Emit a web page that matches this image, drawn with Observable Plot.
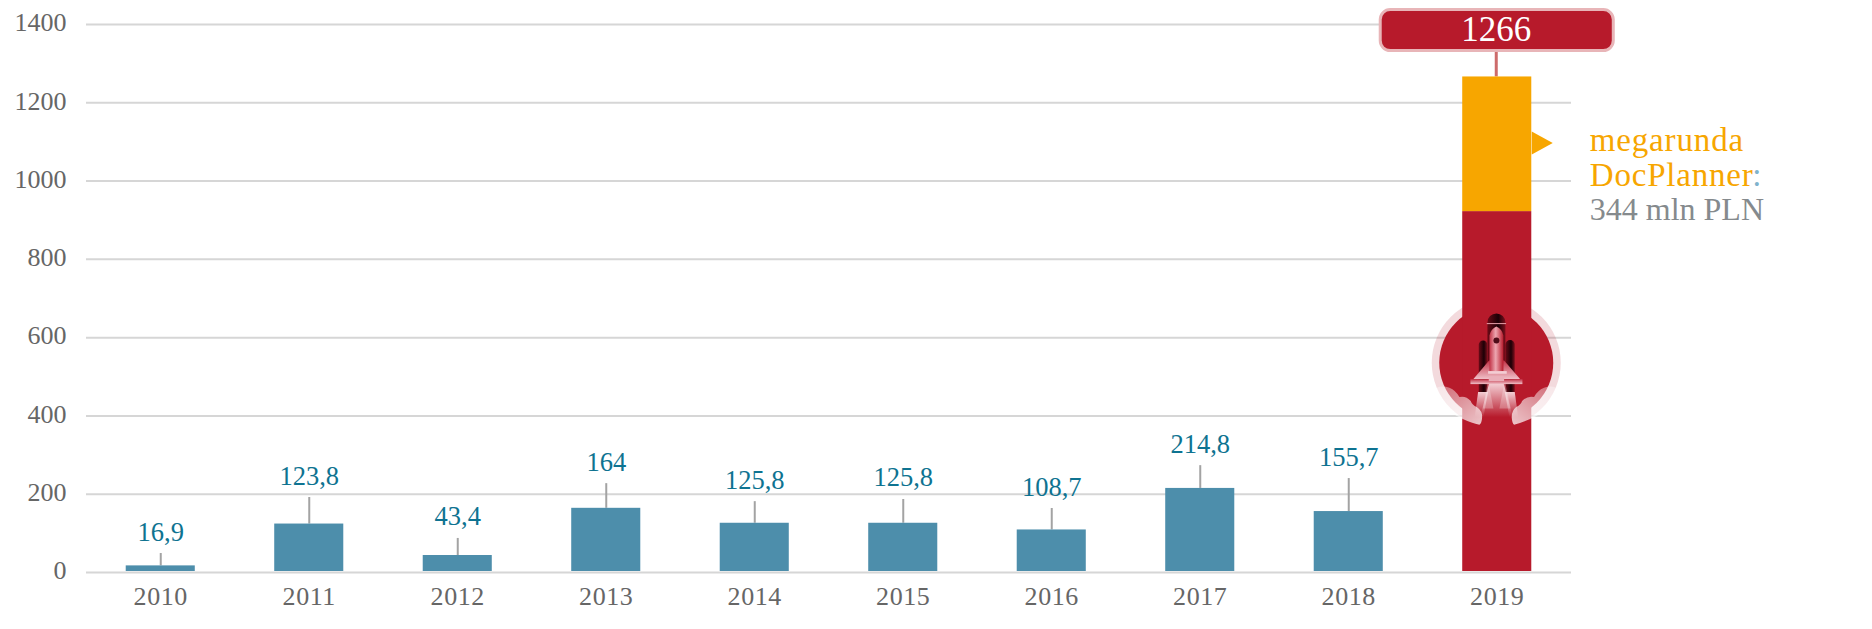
<!DOCTYPE html>
<html><head><meta charset="utf-8">
<script src="https://cdn.jsdelivr.net/npm/d3@7"></script>
<script src="https://cdn.jsdelivr.net/npm/@observablehq/plot@0.6"></script>
<style>html,body{margin:0;padding:0;background:#fff}svg{display:block}</style>
</head><body><div id="c"></div>
<script>
const years=[2010,2011,2012,2013,2014,2015,2016,2017,2018];
const values=[16.9,123.8,43.4,164,125.8,125.8,108.7,214.8,155.7];
const valueLabels=["16,9","123,8","43,4","164","125,8","125,8","108,7","214,8","155,7"];
const leaderTops=[48.5,191.6,87,227,181,186.5,163.5,273,240];
const year2019=2019, base2019=922, megaround=344, total2019=1266;
const yTicks=[0,200,400,600,800,1000,1200,1400];
const noteLines=["megarunda","DocPlanner"];
const noteValues=[1078,988];
const noteLast="344 mln PLN", noteLastValue=901;

const rocket=`<svg xmlns="http://www.w3.org/2000/svg" viewBox="-10.5 0 600 510" width="600" height="510">
<defs>
<linearGradient id="d" x1="0" x2="1" y1="0" y2="0"><stop offset="0" stop-color="#6a0a16"/><stop offset=".6" stop-color="#1c0006"/><stop offset="1" stop-color="#7a0f1c"/></linearGradient>
<linearGradient id="b" x1="0" x2="1" y1="0" y2="0"><stop offset="0" stop-color="#c23246"/><stop offset=".45" stop-color="#eda6b0"/><stop offset="1" stop-color="#b71a2b"/></linearGradient>
<linearGradient id="w" x1="0" x2="0" y1="0" y2="1"><stop offset="0" stop-color="#c23246"/><stop offset="1" stop-color="#f0c0c8"/></linearGradient>
<linearGradient id="f" x1="0" x2="0" y1="0" y2="1"><stop offset="0" stop-color="#f3cdd3"/><stop offset="1" stop-color="#f3cdd3" stop-opacity="0"/></linearGradient>
<linearGradient id="c1" x1="0" x2="1" y1="0" y2="1"><stop offset="0" stop-color="#fff" stop-opacity=".35"/><stop offset="1" stop-color="#fff" stop-opacity=".75"/></linearGradient>
<linearGradient id="c2" x1="1" x2="0" y1="0" y2="1"><stop offset="0" stop-color="#fff" stop-opacity=".35"/><stop offset="1" stop-color="#fff" stop-opacity=".75"/></linearGradient>
</defs>
<path d="M260 270V126a27 27 0 0 1 54 0V270Z" fill="url(#d)"/>
<rect x="258" y="128" width="58" height="3" fill="#e8a0aa"/>
<path d="M234 335V193a13 13 0 0 1 26 0V335Z" fill="url(#d)"/>
<path d="M314 335V193a14 14 0 0 1 28 0V335Z" fill="url(#d)"/>
<path d="M222 410L232 335H262L248 410Z" fill="url(#f)"/>
<path d="M352 410L342 335H312L326 410Z" fill="url(#f)"/>
<path d="M265 310H309L336 410H238Z" fill="url(#f)"/>
<path d="M262 300L246 384H278Z" fill="#fff" opacity=".25"/>
<path d="M312 300L296 384H330Z" fill="#fff" opacity=".25"/>
<path d="M265 240L218 296H358L310 240Z" fill="url(#w)"/>
<rect x="209" y="296" width="156" height="15" fill="url(#w)"/>
<path d="M266 272V165Q270 145 287 138Q304 145 308 165V272Z" fill="url(#b)"/>
<circle cx="287" cy="180" r="9" fill="#4e0c18"/>
<rect x="262" y="272" width="56" height="8" fill="#f3cdd3"/>
<rect x="264" y="288" width="46" height="14" fill="#eab0ba"/>
<path d="M236 433C205 425 170 410 142 390C118 372 108 350 108 322Q125 315 146 322Q165 330 176 350Q195 345 210 362Q214 374 228 380Q246 392 244 412Q243 428 236 433Z" fill="url(#c1)"/>
<path d="M340 433C370 425 405 410 434 390C458 372 466 350 466 322Q450 315 430 322Q410 330 400 350Q380 345 364 362Q360 374 346 380Q332 392 333 412Q334 428 340 433Z" fill="url(#c2)"/>
</svg>`;
const rocketSrc="data:image/svg+xml;charset=utf-8,"+encodeURIComponent(rocket);

const font='"Liberation Serif", serif';
const rightTriangle={draw(ctx){ctx.moveTo(0,-11.5);ctx.lineTo(21,0);ctx.lineTo(0,11.5);ctx.closePath();}};
const rows=years.map((y,i)=>({y,v:values[i],label:valueLabels[i],top:leaderTops[i]}));
const allYears=[...years,year2019];

const chart=Plot.plot({
  width:1872,height:629,marginLeft:86,marginRight:301,marginTop:24,marginBottom:57,
  style:{fontFamily:font,background:"#fff",overflow:"visible"},
  x:{domain:allYears,paddingInner:0.535,paddingOuter:0.2675,round:false,label:null},
  y:{domain:[0,1400],label:null},
  marks:[
    Plot.gridY(yTicks,{stroke:"#d6d6d6",strokeWidth:2,strokeOpacity:1}),
    Plot.axisY(yTicks,{tickSize:0,tickPadding:20,fontSize:26,fill:"#666",label:null,dy:-1.5,tickFormat:d=>String(d)}),
    Plot.axisX(allYears,{tickSize:0,tickPadding:14,fontSize:26,fill:"#666",label:null,tickFormat:d=>String(d)}),
    Plot.dot([year2019],{x:d=>d,y:()=>536,r:64.5,dx:-1,fill:"#b71a2b",fillOpacity:0.16}),
    Plot.dot([year2019],{x:d=>d,y:()=>536,r:57,dx:-1,fill:"#b71a2b"}),
    Plot.ruleX(rows,{x:"y",y1:"v",y2:"top",stroke:"#a3a3a3",strokeWidth:2}),
    Plot.barY(rows,{x:"y",y:"v",fill:"#4d8eab",insetBottom:1}),
    Plot.text(rows,{x:"y",y:"top",text:"label",dy:-13,lineAnchor:"bottom",fontSize:26.5,fill:"#0e7391"}),
    Plot.ruleX([year2019],{x:d=>d,dx:-1,y1:total2019,y2:1332,stroke:"#cd6b6b",strokeWidth:3}),
    Plot.barY([year2019],{x:d=>d,y1:1332,y2:1437,fill:"#b71a2b",stroke:"#e8b5b8",strokeWidth:3,rx:10,insetLeft:-82,insetRight:-82}),
    Plot.text([total2019],{x:()=>year2019,y:()=>1387,dx:-1,text:d=>String(d),fill:"#fff",fontSize:35}),
    Plot.barY([year2019],{x:d=>d,y1:0,y2:base2019,fill:"#b71a2b",insetBottom:1}),
    Plot.barY([year2019],{x:d=>d,y1:base2019,y2:base2019+megaround,fill:"#f7a600"}),
    Plot.dot([year2019],{x:d=>d,y:()=>1097,symbol:rightTriangle,r:5,dx:34.5,fill:"#f7a600"}),
    Plot.image([year2019],{x:d=>d,y:()=>529,src:()=>rocketSrc,width:200,height:170}),
    Plot.text(noteLines,{x:()=>year2019,y:(d,i)=>noteValues[i],text:d=>d,fill:"#f7a600",dx:92.5,textAnchor:"start",lineAnchor:"bottom",fontSize:33}),
    Plot.text([noteLast],{x:()=>year2019,y:()=>noteLastValue,text:d=>d,fill:"#858a8d",dx:92.5,textAnchor:"start",lineAnchor:"bottom",fontSize:32}),
    Plot.text([":"],{x:()=>year2019,y:()=>noteValues[1],text:d=>d,fill:"#7fb3cc",dx:255,textAnchor:"start",lineAnchor:"bottom",fontSize:33})
  ]
});
const spacing=new Map([[noteLines[0],"0.85px"],[noteLines[1],"0.8px"],...allYears.map(y=>[String(y),"0.6px"])]);
d3.select(chart).selectAll("text").each(function(){
  const s=spacing.get(this.textContent);
  if(s) this.style.letterSpacing=s;
});
document.getElementById("c").appendChild(chart);
</script></body></html>
